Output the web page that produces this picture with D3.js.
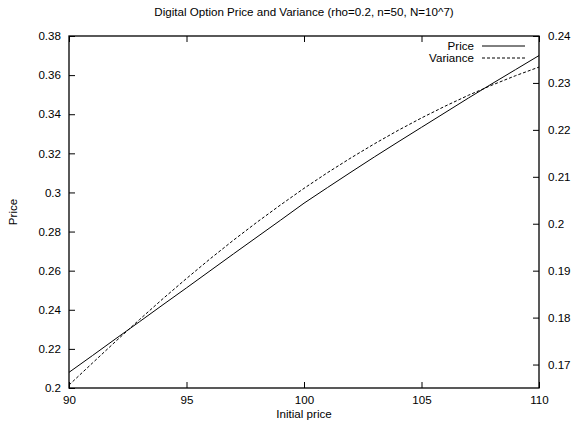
<!DOCTYPE html>
<html><head><meta charset="utf-8">
<script src="https://cdn.jsdelivr.net/npm/d3@7"></script>
<style>body{margin:0;background:#fff}svg{display:block}text{font-family:"Liberation Sans",Arial,sans-serif;fill:#000}</style>
</head><body>
<script>
const initialPrice = [90,91,92,93,94,95,96,97,98,99,100,101,102,103,104,105,106,107,108,109,110];
const priceValues = [0.208,0.2166,0.2253,0.2339,0.2426,0.2512,0.2599,0.2686,0.2772,0.2858,0.2945,0.3025,0.3104,0.3182,0.3258,0.3333,0.3408,0.3483,0.3556,0.3628,0.370];
const varianceValues = [0.16563,0.17033,0.1750,0.17958,0.18404,0.18833,0.1925,0.1965,0.20033,0.2040,0.20754,0.21088,0.21404,0.21704,0.21988,0.22254,0.22504,0.22738,0.22954,0.23154,0.23338];
const xTicks = [90,95,100,105,110];
const yTicks = [0.2,0.22,0.24,0.26,0.28,0.3,0.32,0.34,0.36,0.38];
const y2Ticks = [0.17,0.18,0.19,0.2,0.21,0.22,0.23,0.24];
const seriesNames = ["Price","Variance"];
const titleText = "Digital Option Price and Variance (rho=0.2, n=50, N=10^7)";

const W=574,H=423, L=69,R=539,T=36,B=388;
const svg=d3.select("body").append("svg").attr("width",W).attr("height",H);
const x=d3.scaleLinear().domain([90,110]).range([L,R]);
const y=d3.scaleLinear().domain([0.2,0.38]).range([B,T]);
const y2=d3.scaleLinear().domain([0.165,0.24]).range([B,T]);
const fs=11.6;

// axes
const gL=svg.append("g").attr("transform",`translate(${L},0)`).call(d3.axisLeft(y).tickValues(yTicks).tickSize(-6).tickPadding(8).tickFormat(d3.format("~g")));
const gR=svg.append("g").attr("transform",`translate(${R},0)`).call(d3.axisRight(y2).tickValues(y2Ticks).tickSize(-6).tickPadding(9).tickFormat(d3.format("~g")));
const gB=svg.append("g").attr("transform",`translate(0,${B})`).call(d3.axisBottom(x).tickValues(xTicks).tickSize(-6).tickPadding(8));
const gT=svg.append("g").attr("transform",`translate(0,${T})`).call(d3.axisTop(x).tickValues(xTicks).tickSize(-6).tickFormat(""));
[gL,gR,gB,gT].forEach(g=>{g.select(".domain").remove();g.selectAll("text").attr("font-size",fs).attr("font-family","Liberation Sans, Arial, sans-serif");g.selectAll("line").attr("stroke","#000");});
gB.selectAll("text").attr("dy","0.71em");
svg.append("rect").attr("x",L).attr("y",T).attr("width",R-L).attr("height",B-T).attr("fill","none").attr("stroke","#000").attr("stroke-width",1.3);

// lines
const line1=d3.line().x((d,i)=>x(initialPrice[i])).y(d=>y(d));
const line2=d3.line().x((d,i)=>x(initialPrice[i])).y(d=>y2(d));
svg.append("path").attr("d",line1(priceValues)).attr("fill","none").attr("stroke","#000").attr("stroke-width",1);
svg.append("path").attr("d",line2(varianceValues)).attr("fill","none").attr("stroke","#000").attr("stroke-width",1).attr("stroke-dasharray","3,2");

// legend
seriesNames.forEach((n,i)=>{
  const yy=46+i*12;
  svg.append("text").attr("x",474).attr("y",yy).attr("dy","0.35em").attr("text-anchor","end").attr("font-size",fs).text(n);
  svg.append("line").attr("x1",482).attr("x2",525).attr("y1",yy).attr("y2",yy).attr("stroke","#000").attr("stroke-width",1).attr("stroke-dasharray",i?"3,2":null);
});

// titles
svg.append("text").attr("x",(L+R)/2).attr("y",16).attr("text-anchor","middle").attr("font-size",fs).text(titleText);
svg.append("text").attr("x",(L+R)/2).attr("y",418).attr("text-anchor","middle").attr("font-size",fs).text("Initial price");
svg.append("text").attr("transform",`translate(17,${(T+B)/2}) rotate(-90)`).attr("text-anchor","middle").attr("font-size",fs).text("Price");
</script>
</body></html>
